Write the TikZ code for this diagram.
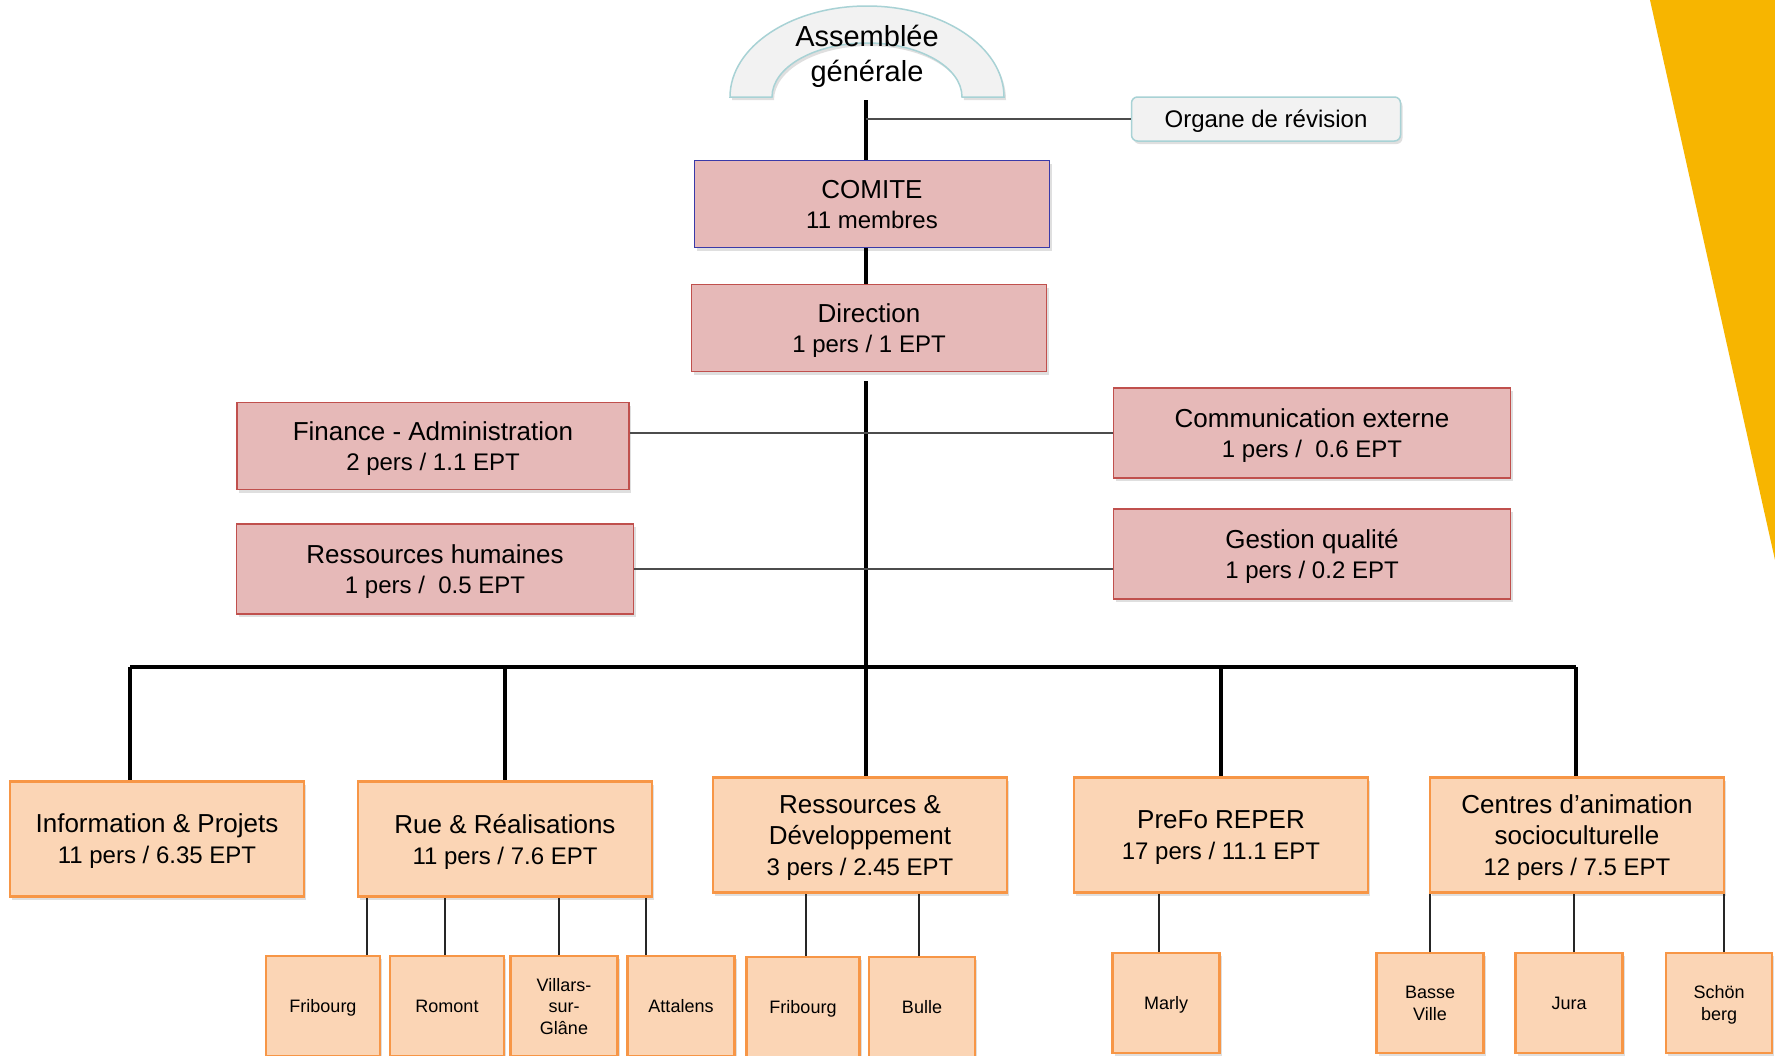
\documentclass[tikz,border=0pt]{standalone}
\usepackage{fontspec}
\setmainfont{Liberation Sans}
\usetikzlibrary{shadows}
\definecolor{pinkfill}{HTML}{E6B9B8}
\definecolor{pinkline}{HTML}{C0504D}
\definecolor{comiteline}{HTML}{3A3AA8}
\definecolor{orangefill}{HTML}{FBD5B5}
\definecolor{orangeline}{HTML}{F79646}
\definecolor{greyfill}{HTML}{F2F2F2}
\definecolor{tealline}{HTML}{A8D2D5}
\definecolor{bannergold}{HTML}{F7B500}
\newcommand{\persline}[1]{{\fontsize{24}{30}\selectfont #1}}
\tikzstyle{soft shadow}=[drop shadow={shadow xshift=2pt,shadow yshift=-3pt,opacity=.25}]
\tikzstyle{pink box}=[rectangle,draw=pinkline,fill=pinkfill,line width=1.8pt,align=center,minimum width=397pt,minimum height=90pt,text depth=-2pt,soft shadow,font=\fontsize{26}{30}\selectfont]
\tikzstyle{unit box}=[rectangle,draw=orangeline,fill=orangefill,line width=2.2pt,align=center,minimum width=294pt,minimum height=115pt,text depth=-2pt,soft shadow,font=\fontsize{26}{31}\selectfont]
\tikzstyle{site box}=[rectangle,draw=orangeline,fill=orangefill,line width=2.2pt,align=center,minimum height=100pt,text depth=0pt,anchor=north,soft shadow,font=\fontsize{18}{21.5}\selectfont]
\tikzstyle{edge}=[draw,line width=3.5pt,-]
\tikzstyle{thin edge}=[draw,line width=1.2pt,black!70,-]
\tikzstyle{site edge}=[draw,line width=1.3pt,black!85,-]

\begin{document}
\begin{tikzpicture}[x=1pt,y=-1pt]
        \useasboundingbox (0,0) rectangle (1775,1055);
        \clip (0,0) rectangle (1775,1055);
        \fill[white] (0,0) rectangle (1775,1055);
        \fill[bannergold] (1650,0) -- (1775,0) -- (1775,560) -- cycle;
        % top
        \filldraw[draw=tealline,fill=greyfill,line width=1.5pt,soft shadow] (730,97) arc[start angle=180,end angle=360,x radius=137,y radius=91] -- (962,97) arc[start angle=360,end angle=180,x radius=95,y radius=54] -- cycle;
        \node[align=center,font=\fontsize{29}{35}\selectfont] (ag) at (867,56) {Assemblée\\générale};
        \node[rectangle,rounded corners=6pt,draw=tealline,fill=greyfill,line width=1.5pt,minimum width=269pt,minimum height=44pt,text depth=0pt,soft shadow,font=\fontsize{24}{28}\selectfont] (organe) at (1266,119) {Organe de révision};
        \node[pink box,draw=comiteline,minimum width=355pt,minimum height=87pt] (comite) at (872,204) {COMITE\\\persline{11 membres}};
        \node[pink box,minimum width=355pt,minimum height=87pt] (direction) at (869,328) {Direction\\\persline{1 pers / 1 EPT}};
        \node[pink box,minimum width=392pt,minimum height=87pt] (fin) at (433,446) {Finance - Administration\\\persline{2 pers / 1.1 EPT}};
        \node[pink box] (com) at (1312,433) {Communication externe\\\persline{1 pers /\ \ 0.6 EPT}};
        \node[pink box] (rh) at (435,569) {Ressources humaines\\\persline{1 pers /\ \ 0.5 EPT}};
        \node[pink box] (gq) at (1312,554) {Gestion qualité\\\persline{1 pers / 0.2 EPT}};
        % units
        \node[unit box] (info) at (157,839) {Information \& Projets\\\persline{11 pers / 6.35 EPT}};
        \node[unit box] (rue) at (505,839) {Rue \& Réalisations\\\persline{11 pers / 7.6 EPT}};
        \node[unit box] (rd) at (860,835) {Ressources \&\\Développement\\\persline{3 pers / 2.45 EPT}};
        \node[unit box] (prefo) at (1221,835) {PreFo REPER\\\persline{17 pers / 11.1 EPT}};
        \node[unit box] (cas) at (1577,835) {Centres d’animation\\socioculturelle\\\persline{12 pers / 7.5 EPT}};
        % sites
        \node[site box,minimum width=114pt] (fr1) at (323,955) {Fribourg};
        \node[site box,minimum width=114pt] (rom) at (447,955) {Romont};
        \node[site box,minimum width=107pt] (vil) at (564,955) {Villars-\\sur-\\Glâne};
        \node[site box,minimum width=107pt] (att) at (681,955) {Attalens};
        \node[site box,minimum width=113pt] (fr2) at (803,956) {Fribourg};
        \node[site box,minimum width=106pt] (bul) at (922,956) {Bulle};
        \node[site box,minimum width=107pt] (mar) at (1166,952) {Marly};
        \node[site box,minimum width=107pt] (bas) at (1430,952) {Basse\\Ville};
        \node[site box,minimum width=107pt] (jur) at (1569,952) {Jura};
        \node[site box,minimum width=106pt] (sch) at (1719,952) {Schön\\berg};
        \coordinate (agfoot) at (866,100);
        \coordinate (busl) at (130,667);
        \coordinate (busr) at (1576,667);
        \draw[edge] (agfoot) to (agfoot |- comite.north);
        \draw[thin edge] (agfoot |- organe.west) to (organe.west);
        \draw[edge] (agfoot |- comite.south) to (agfoot |- direction.north);
        \draw[edge] (agfoot |- direction.south) ++(0,9) to (agfoot |- rd.north);
        \draw[thin edge] (fin.east |- com.west) to (com.west);
        \draw[thin edge] (rh.east) to (rh.east -| gq.west);
        \draw[edge] (busl) to (busr);
        \draw[edge] (busl) to (busl |- info.north);
        \draw[edge] (rue.north |- busl) to (rue.north);
        \draw[edge] (prefo.north |- busl) to (prefo.north);
        \draw[edge] (busr) to (busr |- cas.north);
        \draw[site edge] ([xshift=44pt]fr1.north) to ([xshift=44pt]fr1.north |- rue.south);
        \draw[site edge] ([xshift=-2pt]rom.north) to ([xshift=-2pt]rom.north |- rue.south);
        \draw[site edge] ([xshift=-5pt]vil.north) to ([xshift=-5pt]vil.north |- rue.south);
        \draw[site edge] ([xshift=-35pt]att.north) to ([xshift=-35pt]att.north |- rue.south);
        \draw[site edge] ([xshift=3pt]fr2.north) to ([xshift=3pt]fr2.north |- rd.south);
        \draw[site edge] ([xshift=-3pt]bul.north) to ([xshift=-3pt]bul.north |- rd.south);
        \draw[site edge] ([xshift=-7pt]mar.north) to ([xshift=-7pt]mar.north |- prefo.south);
        \draw[site edge] (bas.north) to (bas.north |- cas.south);
        \draw[site edge] ([xshift=5pt]jur.north) to ([xshift=5pt]jur.north |- cas.south);
        \draw[site edge] ([xshift=5pt]sch.north) to ([xshift=5pt]sch.north |- cas.south);
      \end{tikzpicture}
\end{document}
